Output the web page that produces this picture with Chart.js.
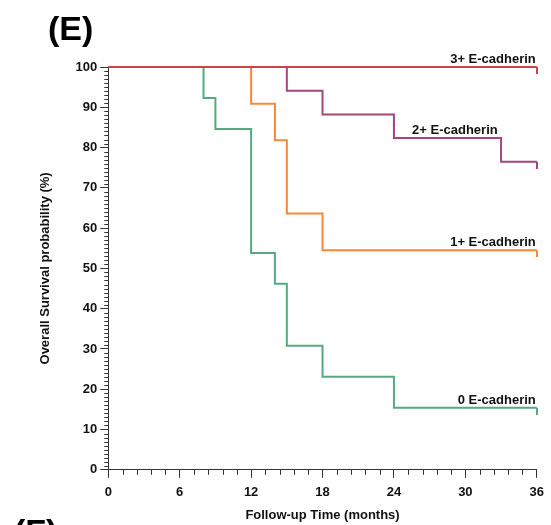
<!DOCTYPE html>
<html>
<head>
<meta charset="utf-8">
<script src="https://cdn.jsdelivr.net/npm/chart.js@4/dist/chart.umd.min.js"></script>
<style>
html,body{margin:0;padding:0;background:#fff;}
#wrap{width:551px;height:525px;position:relative;}
</style>
</head>
<body>
<div id="wrap"><canvas id="c" width="551" height="525"></canvas></div>
<script>
// Kaplan-Meier data (months, survival %)
const seriesNames = ['3+ E-cadherin', '2+ E-cadherin', '1+ E-cadherin', '0 E-cadherin'];
const timesE3 = [0, 36];
const survE3  = [100, 100];
const timesE2 = [0, 15, 18, 24, 33, 36];
const survE2  = [100, 94.1, 88.2, 82.4, 76.5, 76.5];
const timesE1 = [0, 12, 14, 15, 18, 36];
const survE1  = [100, 90.9, 81.8, 63.6, 54.5, 54.5];
const timesE0 = [0, 8, 9, 12, 14, 15, 18, 24, 36];
const survE0  = [100, 92.3, 84.6, 53.8, 46.2, 30.8, 23.1, 15.4, 15.4];
const xTicks = [0, 6, 12, 18, 24, 30, 36];
const yTicks = [0, 10, 20, 30, 40, 50, 60, 70, 80, 90, 100];
const seriesColors = ['#d4404a', '#a2467f', '#f7873a', '#55ab7f'];
// label anchor (x in months, y in %)
const labelX = [36, 32.8, 36, 36];
const labelY = [100, 82.4, 54.5, 15.4];

function endTick(color){
  const cv = document.createElement('canvas');
  cv.width = 2; cv.height = 14;
  const g = cv.getContext('2d');
  g.fillStyle = color;
  g.fillRect(0, 7, 2, 7);
  return cv;
}
function mk(times, surv, name, color){
  const pts = times.map((t,i)=>({x:t, y:surv[i]}));
  const last = pts.length-1;
  return {
    label: name,
    data: pts,
    borderColor: color,
    backgroundColor: color,
    borderWidth: 2,
    stepped: 'before',
    fill: false,
    clip: false,
    pointStyle: pts.map((p,i)=> i===last ? endTick(color) : false),
    pointRadius: pts.map((p,i)=> i===last ? 4 : 0),
    pointHoverRadius: 0
  };
}

const FONT = '"Liberation Sans", Arial, sans-serif';

const deco = {
  id: 'deco',
  afterDraw(chart){
    const ctx = chart.ctx;
    const xs = chart.scales.x, ys = chart.scales.y;
    ctx.save();
    ctx.strokeStyle = '#333';
    ctx.lineWidth = 1;
    // minor ticks on y
    for (let v = 0; v <= 100; v += 1){
      if (v % 10 === 0) continue;
      const py = Math.round(ys.getPixelForValue(v)) + 0.5;
      ctx.beginPath(); ctx.moveTo(xs.left - 4, py); ctx.lineTo(xs.left, py); ctx.stroke();
    }
    // minor ticks on x
    for (let k = 0; k <= 30; k++){
      if (k % 5 === 0) continue;
      const px = Math.round(xs.getPixelForValue(k*1.2)) + 0.5;
      ctx.beginPath(); ctx.moveTo(px, ys.bottom); ctx.lineTo(px, ys.bottom + 5); ctx.stroke();
    }
    // series labels
    ctx.font = 'bold 13px ' + FONT;
    ctx.fillStyle = '#111';
    ctx.textAlign = 'right';
    ctx.textBaseline = 'alphabetic';
    for (let i = 0; i < seriesNames.length; i++){
      const px = xs.getPixelForValue(labelX[i]);
      const py = ys.getPixelForValue(labelY[i]);
      ctx.fillText(seriesNames[i], px - 1, py - 4);
    }
    // panel letters
    ctx.textAlign = 'left';
    ctx.font = 'bold 34px ' + FONT;
    ctx.fillStyle = '#000';
    ctx.fillText('(E)', 48, 40);
    ctx.fillText('(F)', 14, 543);
    ctx.restore();
  }
};

new Chart(document.getElementById('c'), {
  type: 'line',
  data: {
    datasets: [
      mk(timesE3, survE3, seriesNames[0], seriesColors[0]),
      mk(timesE2, survE2, seriesNames[1], seriesColors[1]),
      mk(timesE1, survE1, seriesNames[2], seriesColors[2]),
      mk(timesE0, survE0, seriesNames[3], seriesColors[3])
    ]
  },
  options: {
    responsive: false,
    animation: false,
    devicePixelRatio: 1,
    layout: { autoPadding: false, padding: { top: 67, right: 10, left: 38, bottom: 2 } },
    plugins: { legend: { display: false }, tooltip: { enabled: false } },
    scales: {
      x: {
        type: 'linear', min: 0, max: 36,
        afterBuildTicks: (s) => { s.ticks = xTicks.map(v => ({value: v})); },
        ticks: { font: { family: FONT, size: 13, weight: 'bold' }, color: '#111', padding: 7, maxRotation: 0 },
        grid: { drawOnChartArea: false, drawTicks: true, tickLength: 8, color: '#333' },
        border: { display: true, color: '#333', width: 1 },
        title: { display: true, text: 'Follow-up Time (months)', font: { family: FONT, size: 13, weight: 'bold' }, color: '#111', padding: { top: 0, bottom: 0 } }
      },
      y: {
        type: 'linear', min: 0, max: 100,
        afterBuildTicks: (s) => { s.ticks = yTicks.map(v => ({value: v})); },
        ticks: { font: { family: FONT, size: 13, weight: 'bold' }, color: '#111', padding: 3 },
        grid: { drawOnChartArea: false, drawTicks: true, tickLength: 8, color: '#333' },
        border: { display: true, color: '#333', width: 1 },
        title: { display: true, text: 'Overall Survival probability (%)', font: { family: FONT, size: 13, weight: 'bold' }, color: '#111', padding: { top: 0, bottom: 19 } }
      }
    }
  },
  plugins: [deco]
});
</script>
</body>
</html>
